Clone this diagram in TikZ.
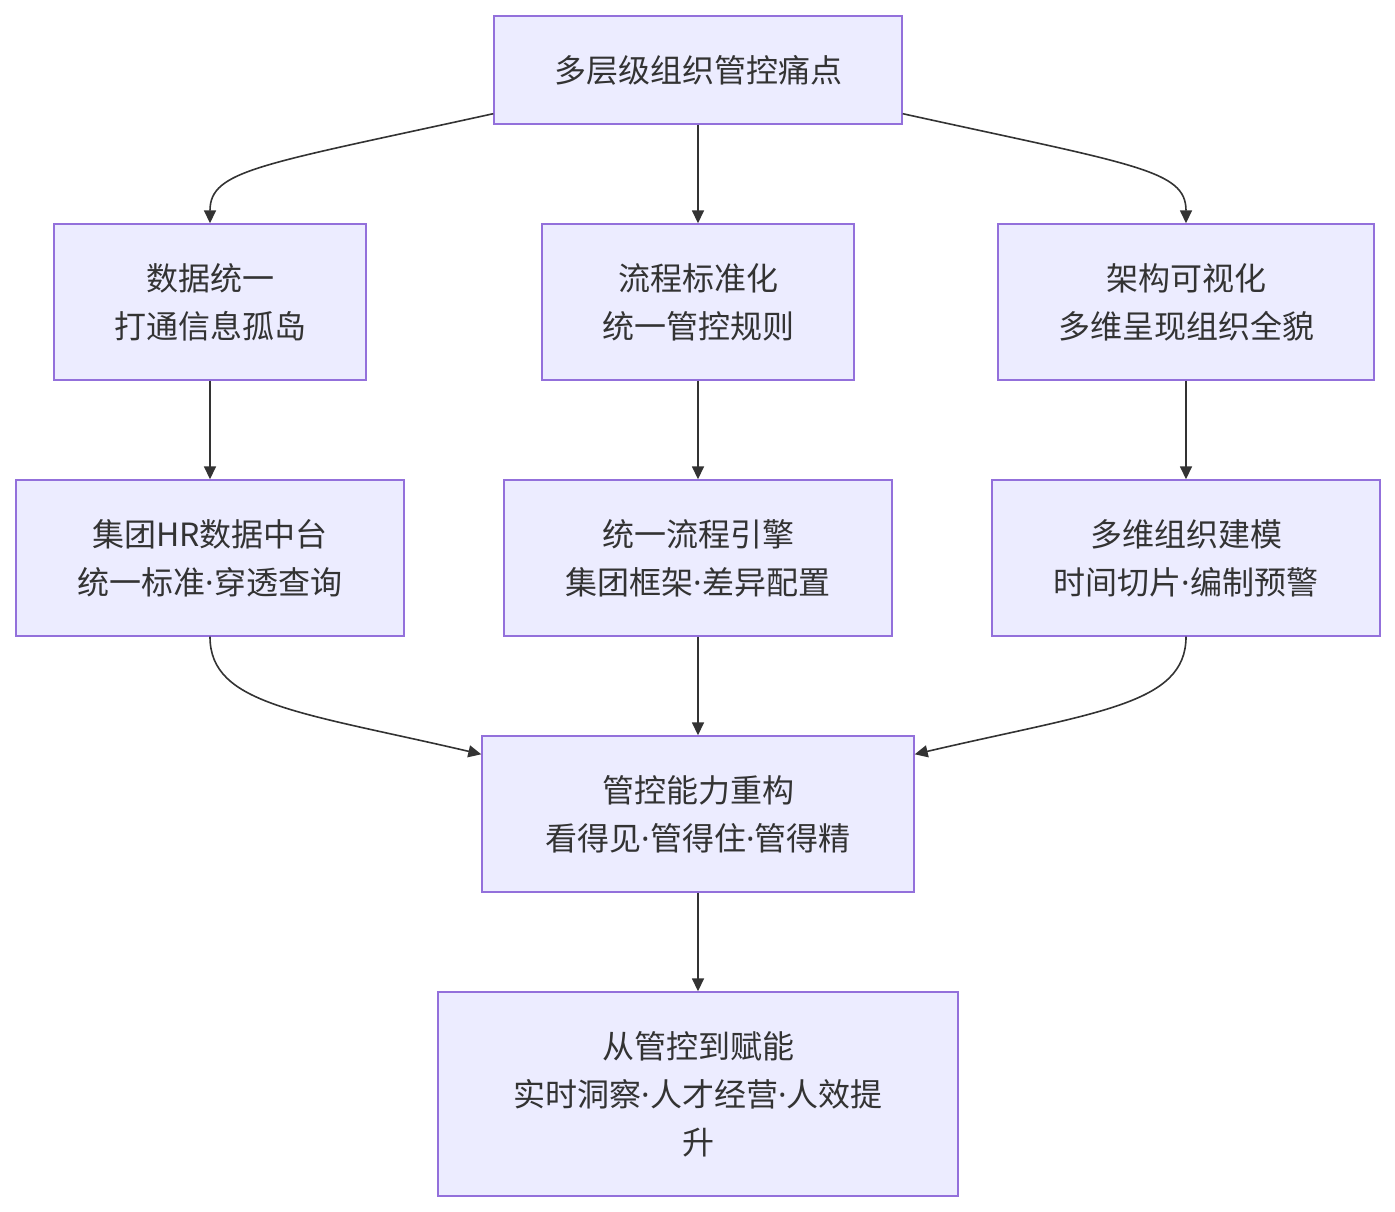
\documentclass[tikz,border=0pt]{standalone}
\usepackage{fontspec}
\setmainfont{Noto Sans CJK SC}
\newfontfamily\latinfont{Noto Sans}
\newcommand\mdot{{\latinfont ·}}
\usetikzlibrary{arrows.meta,calc}
\definecolor{boxfill}{HTML}{ECECFF}
\definecolor{boxline}{HTML}{9370DB}
\definecolor{ink}{HTML}{333333}
\begin{document}
\begin{tikzpicture}[x=1pt,y=-1pt,
  box/.style={draw=boxline, fill=boxfill, line width=1.4pt, text=ink, align=center,
    font=\fontsize{32}{48}\selectfont, inner sep=0pt},
  arr/.style={draw=ink, line width=1.6pt, -{Triangle[length=13pt,width=12pt]}}]
\useasboundingbox (0,0) rectangle (1395,1212);
\node[box, minimum width=408pt, minimum height=108pt] (top) at (698,70) {多层级组织管控痛点};
\node[box, minimum width=312pt, minimum height=156pt] (A1) at (210,302) {数据统一\\打通信息孤岛};
\node[box, minimum width=312pt, minimum height=156pt] (A2) at (698,302) {流程标准化\\统一管控规则};
\node[box, minimum width=376pt, minimum height=156pt] (A3) at (1186,302) {架构可视化\\多维呈现组织全貌};
\node[box, minimum width=388pt, minimum height=156pt] (B1) at (210,558) {集团HR数据中台\\统一标准\mdot 穿透查询};
\node[box, minimum width=388pt, minimum height=156pt] (B2) at (698,558) {统一流程引擎\\集团框架\mdot 差异配置};
\node[box, minimum width=388pt, minimum height=156pt] (B3) at (1186,558) {多维组织建模\\时间切片\mdot 编制预警};
\node[box, minimum width=432pt, minimum height=156pt] (C) at (698,814) {管控能力重构\\看得见\mdot 管得住\mdot 管得精};
\node[box, minimum width=520pt, minimum height=204pt] (D) at (698,1094) {从管控到赋能\\实时洞察\mdot 人才经营\mdot 人效提\\升};

\draw[arr] ($(top.south west)+(0,-11)$) .. controls (260,165) and (210,170) .. (A1.north);
\draw[arr] (top) -- (A2);
\draw[arr] ($(top.south east)+(0,-11)$) .. controls (1136,165) and (1186,170) .. (A3.north);
\draw[arr] (A1) -- (B1);
\draw[arr] (A2) -- (B2);
\draw[arr] (A3) -- (B3);
\draw[arr] (B1.south) .. controls (210,705) and (300,712) .. ($(C.north west)+(0,19)$);
\draw[arr] (B2) -- (C);
\draw[arr] (B3.south) .. controls (1186,705) and (1096,712) .. ($(C.north east)+(0,19)$);
\draw[arr] (C) -- (D);
\end{tikzpicture}
\end{document}
